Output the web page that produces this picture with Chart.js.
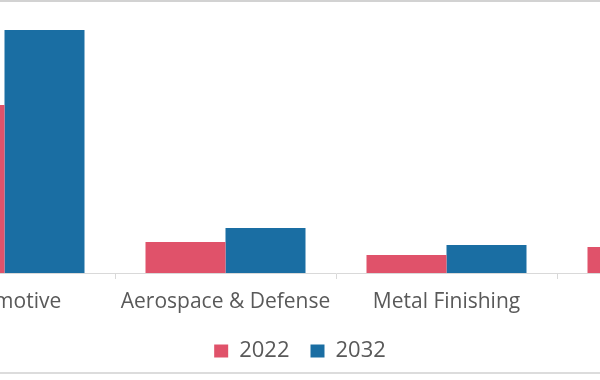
<!DOCTYPE html>
<html>
<head>
<meta charset="utf-8">
<script src="https://cdn.jsdelivr.net/npm/chart.js@4"></script>
<style>
  html, body { margin: 0; padding: 0; background: #fff; overflow: hidden; }
  #frame { position: relative; width: 600px; height: 380px; overflow: hidden; background: #fff; }
  #topline { position: absolute; left: 0; top: 0; width: 600px; height: 2px; background: #d2d2d2; z-index: 2; }
  #botline { position: absolute; left: 0; top: 372px; width: 600px; height: 2px; background: #dcdcdc; z-index: 2; }
  #wrap { position: absolute; left: -178px; top: 0; width: 956px; height: 372px; }
</style>
</head>
<body>
<div id="frame">
  <div id="topline"></div>
  <div id="botline"></div>
  <div id="wrap"><canvas id="c"></canvas></div>
</div>
<script>
const categories = ["Automotive", "Aerospace & Defense", "Metal Finishing", "Others"];
const seriesNames = ["2022", "2032"];
const values2022 = [16.8, 3.1, 1.8, 2.6];
const values2032 = [24.3, 4.5, 2.8, 3.8];
const colors = ["#e0526a", "#1a6ea3"];

new Chart(document.getElementById('c'), {
  type: 'bar',
  data: {
    labels: categories,
    datasets: [
      { label: seriesNames[0], data: values2022, backgroundColor: colors[0], borderWidth: 0 },
      { label: seriesNames[1], data: values2032, backgroundColor: colors[1], borderWidth: 0 }
    ]
  },
  options: {
    responsive: true,
    maintainAspectRatio: false,
    animation: false,
    layout: { padding: { top: 23, bottom: 0, left: 0, right: 0 } },
    datasets: { bar: { categoryPercentage: 0.724, barPercentage: 1.0 } },
    plugins: {
      legend: {
        position: 'bottom',
        labels: {
          boxWidth: 14, boxHeight: 13, padding: 21,
          color: '#595959',
          font: { family: 'Open Sans', size: 22 }
        }
      },
      tooltip: { enabled: false }
    },
    scales: {
      x: {
        grid: { display: true, drawOnChartArea: false, drawTicks: true, tickLength: 6, color: '#d9d9d9', offset: true },
        border: { display: true, color: '#d9d9d9', width: 1 },
        ticks: { color: '#595959', font: { family: 'Open Sans', size: 21 }, padding: 10, maxRotation: 0, autoSkip: false },
        afterFit: (s) => { s.height = 46; }
      },
      y: {
        min: 0, max: 25,
        grid: { display: false },
        border: { display: false },
        ticks: { display: false },
        afterFit: (s) => { s.width = 72; }
      }
    }
  }
});
</script>
</body>
</html>
